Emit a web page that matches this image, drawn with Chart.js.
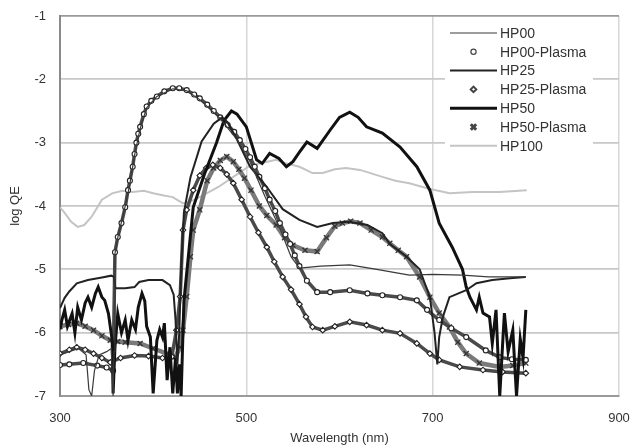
<!DOCTYPE html>
<html><head><meta charset="utf-8">
<script src="https://cdn.jsdelivr.net/npm/chart.js@4.4.0/dist/chart.umd.min.js"></script>
<style>html,body{margin:0;padding:0;background:#fff;}#wrap{width:630px;height:446px;}</style>
</head><body><div id="wrap"><canvas id="c" width="630" height="446"></canvas></div>
<script>
// ---- data ----
const seriesNames = ['HP00','HP00-Plasma','HP25','HP25-Plasma','HP50','HP50-Plasma','HP100'];
const xTicks = [300,500,700,900];
const yTicks = [-1,-2,-3,-4,-5,-6,-7];

const hp00_x = [300,310,320,328,331,334,337,342,350,355,357,358,359,362,366,370,375,380,386,393,404,421,436,450,472,490,504,520,536,548,557,580,611,640,675,700,732,760,800];
const hp00_y = [-6.35,-6.3,-6.25,-6.35,-6.9,-7.0,-6.6,-6.35,-6.3,-6.25,-7.0,-6.3,-4.75,-4.5,-4.25,-4.0,-3.65,-3.2,-2.78,-2.45,-2.27,-2.15,-2.18,-2.32,-2.62,-2.95,-3.3,-3.85,-4.35,-4.8,-4.98,-4.95,-4.93,-5.0,-5.09,-5.08,-5.09,-5.12,-5.12];

const hp00p_x = [300,310,325,340,350,357,359,362,366,370,373,375,378,380,382,384,386,390,393,398,404,412,421,428,436,444,450,458,465,472,480,487,493,499,504,509,514,520,525,531,536,542,547,552,557,565,576,590,611,630,646,665,683,694,707,720,736,757,772,785,800];
const hp00p_y = [-6.51,-6.5,-6.48,-6.52,-6.55,-6.6,-4.73,-4.49,-4.27,-4.02,-3.75,-3.6,-3.38,-3.18,-3.0,-2.86,-2.75,-2.55,-2.43,-2.34,-2.27,-2.19,-2.14,-2.14,-2.17,-2.24,-2.3,-2.4,-2.5,-2.6,-2.72,-2.83,-2.96,-3.1,-3.23,-3.38,-3.54,-3.72,-3.9,-4.08,-4.27,-4.45,-4.6,-4.78,-4.95,-5.18,-5.36,-5.36,-5.33,-5.38,-5.41,-5.44,-5.49,-5.64,-5.8,-5.93,-6.07,-6.28,-6.39,-6.42,-6.43];

const hp25_x = [300,305,310,318,330,345,355,358,359.5,370,380,385,395,410,418,422,424,426,428,430,433,440,452,465,474,480,490,504,522,539,557,576,593,610,630,646,654,672,686,697,702,705,707,711,718,736,747,764,783,800];
const hp25_y = [-5.61,-5.45,-5.35,-5.22,-5.17,-5.13,-5.1,-5.12,-5.3,-5.3,-5.28,-5.2,-5.17,-5.17,-5.25,-5.4,-5.8,-6.5,-6.0,-5.0,-4.1,-3.55,-2.98,-2.7,-2.6,-2.68,-2.95,-3.38,-3.7,-4.05,-4.22,-4.33,-4.27,-4.25,-4.3,-4.43,-4.6,-4.8,-5.0,-5.44,-6.0,-6.5,-6.07,-5.75,-5.44,-5.33,-5.22,-5.17,-5.14,-5.12];

const hp25p_x = [300,310,318,327,336,345,354,365,380,395,410,420,425,429,432,436,443,450,457,464,472,479,486,495,504,513,522,530,539,548,557,564,571,582,595,611,629,646,665,683,697,707,729,754,775,800];
const hp25p_y = [-6.33,-6.27,-6.23,-6.27,-6.33,-6.4,-6.47,-6.4,-6.36,-6.37,-6.4,-6.38,-5.96,-5.43,-4.38,-4.06,-3.75,-3.52,-3.4,-3.35,-3.4,-3.5,-3.64,-3.9,-4.17,-4.42,-4.65,-4.88,-5.12,-5.32,-5.55,-5.75,-5.91,-5.96,-5.9,-5.83,-5.88,-5.96,-6.01,-6.17,-6.33,-6.43,-6.54,-6.59,-6.62,-6.64];

const hp50_x = [300,302,305,308,313,316,319,323,327,330,334,338,341,345,348,352,356,357,359,362,366,370,373,377,381,384,388,391,393,397,400,404,407,410,412,415,418,421,424,426,428,430,433,443,455,468,476,484,490,500,511,517,525,535,543,550,557,565,576,590,600,611,620,629,646,665,683,697,707,721,732,736,740,747,750,754,761,764,768,772,775,777,781,786,790,794,797,800];
const hp50_y = [-5.95,-5.8,-5.64,-5.9,-5.7,-6.0,-5.6,-5.8,-5.53,-5.44,-5.6,-5.38,-5.28,-5.44,-5.49,-5.7,-6.12,-6.96,-6.23,-5.7,-6.0,-5.8,-6.12,-5.8,-5.95,-5.6,-5.38,-5.5,-5.9,-6.07,-6.96,-6.12,-5.95,-6.07,-5.85,-6.75,-6.23,-6.96,-6.4,-6.96,-6.5,-7.0,-5.5,-4.02,-3.5,-3.0,-2.65,-2.5,-2.55,-2.75,-3.27,-3.33,-3.17,-3.25,-3.38,-3.3,-3.15,-2.99,-3.09,-2.8,-2.6,-2.52,-2.6,-2.75,-2.85,-3.07,-3.38,-3.75,-4.27,-4.65,-5.0,-5.28,-5.44,-5.64,-5.44,-5.69,-5.75,-6.17,-5.64,-7.0,-6.2,-5.69,-6.3,-5.96,-7.0,-6.1,-6.4,-5.64];

const hp50p_x = [300,309,318,327,336,345,354,362,370,386,400,415,424,429,432,436,440,443,450,458,465,472,479,486,492,498,505,514,522,532,541,550,563,576,586,595,603,612,622,634,646,654,663,672,686,697,707,718,727,736,750,772,786,800];
const hp50p_y = [-5.9,-5.87,-5.85,-5.9,-5.96,-6.05,-6.12,-6.14,-6.15,-6.17,-6.25,-6.33,-6.38,-6.23,-5.96,-5.43,-4.8,-4.38,-4.06,-3.6,-3.4,-3.28,-3.22,-3.3,-3.42,-3.56,-3.75,-4.0,-4.15,-4.3,-4.5,-4.62,-4.7,-4.72,-4.5,-4.32,-4.27,-4.24,-4.27,-4.38,-4.49,-4.59,-4.7,-4.8,-5.12,-5.44,-5.69,-5.91,-6.15,-6.33,-6.48,-6.54,-6.52,-6.48];

const hp100_x = [300,305,312,319,326,334,345,356,367,378,390,400,410,421,432,445,470,490,505,514,532,543,557,571,582,595,607,622,646,660,675,694,718,743,772,801];
const hp100_y = [-4.02,-4.11,-4.25,-4.33,-4.3,-4.17,-3.9,-3.8,-3.76,-3.78,-3.76,-3.8,-3.83,-3.86,-3.96,-3.9,-3.7,-3.5,-3.35,-3.33,-3.27,-3.33,-3.38,-3.48,-3.48,-3.42,-3.4,-3.43,-3.54,-3.6,-3.64,-3.72,-3.8,-3.78,-3.78,-3.75];

// ---- build ----
const pts = (xs, ys) => xs.map((x, i) => ({x: x, y: ys[i]}));
const FONT = "'Liberation Sans', Arial, sans-serif";

function lineDs(label, xs, ys, color, width, dash) {
  return {label, data: pts(xs, ys), showLine: true, borderColor: color, borderWidth: width,
    borderDash: dash || [], pointRadius: 0, tension: 0, kind: 'line', order: 0};
}
function markDs(label, xs, ys, style, r, lineColor, lineW, markColor, bw, legendR) {
  return {label, data: pts(xs, ys), showLine: true, borderColor: lineColor, borderWidth: lineW,
    pointStyle: style, pointRadius: r, pointBorderWidth: bw, pointBorderColor: markColor,
    pointBackgroundColor: '#fff', tension: 0, kind: 'mark', order: 1, legendR: legendR};
}

const datasets = [
  lineDs(seriesNames[0], hp00_x, hp00_y, '#3a3a3a', 1.2),
  markDs(seriesNames[1], hp00p_x, hp00p_y, 'circle', 2.5, '#4a4a4a', 3.5, '#222', 1.1, 2.6),
  lineDs(seriesNames[2], hp25_x, hp25_y, '#222', 2),
  markDs(seriesNames[3], hp25p_x, hp25p_y, 'rectRot', 2.8, '#4a4a4a', 3.5, '#222', 1.1, 2.8),
  lineDs(seriesNames[4], hp50_x, hp50_y, '#111', 3),
  markDs(seriesNames[5], hp50p_x, hp50p_y, 'crossRot', 3.6, '#7a7a7a', 4.5, '#333', 1.3, 3.8),
  Object.assign(lineDs(seriesNames[6], hp100_x, hp100_y, '#c4c4c4', 2), {order: 2})
];

const insideLegend = {
  id: 'insideLegend',
  beforeDatasetsDraw(chart) {
    const ctx = chart.ctx, a = chart.chartArea;
    ctx.save();
    ctx.fillStyle = '#fff';
    ctx.fillRect(a.right - 174, a.top + 7, 148, 132);
    ctx.restore();
  },
  afterDatasetsDraw(chart) {
    const ctx = chart.ctx, a = chart.chartArea;
    const x0 = a.right - 169, x1 = a.right - 122, xt = a.right - 119;
    ctx.save();
    chart.data.datasets.forEach((ds, i) => {
      const y = a.top + 17 + i * 18.8;
      if (ds.kind === 'line') {
        ctx.strokeStyle = ds.borderColor; ctx.lineWidth = ds.borderWidth;
        ctx.setLineDash(ds.borderDash || []);
        ctx.beginPath(); ctx.moveTo(x0, y); ctx.lineTo(x1, y); ctx.stroke();
        ctx.setLineDash([]);
      } else {
        ctx.strokeStyle = '#444'; ctx.fillStyle = '#fff';
        Chart.helpers.drawPoint(ctx, {pointStyle: ds.pointStyle, radius: ds.legendR, borderWidth: 1.2, rotation: 0}, (x0 + x1) / 2, y);
      }
      ctx.fillStyle = '#333';
      ctx.font = "14px " + FONT;
      ctx.textBaseline = 'middle'; ctx.textAlign = 'left';
      ctx.fillText(ds.label, xt, y + 1);
    });
    ctx.restore();
  }
};

new Chart(document.getElementById('c'), {
  type: 'scatter',
  data: {datasets},
  plugins: [insideLegend],
  options: {
    responsive: false, animation: false,
    layout: {padding: {left: 0, right: 11, top: 16, bottom: 0}},
    plugins: {legend: {display: false}, tooltip: {enabled: false}},
    scales: {
      x: {
        type: 'linear', min: 300, max: 900,
        afterBuildTicks: s => { s.ticks = xTicks.map(v => ({value: v})); },
        afterFit: s => { s.height = 50; s.paddingLeft = 0; s.paddingRight = 0; },
        grid: {color: '#d6d6d6', lineWidth: 1.5, drawTicks: false},
        border: {color: '#9a9a9a', width: 2},
        ticks: {padding: 15, color: '#333', font: {size: 13, family: FONT}},
        title: {display: true, text: 'Wavelength (nm)', color: '#333', font: {size: 13, family: FONT}, padding: {top: 0, bottom: 0}}
      },
      y: {
        type: 'linear', min: -7, max: -1,
        afterBuildTicks: s => { s.ticks = yTicks.map(v => ({value: v})); },
        afterFit: s => { s.width = 60; s.paddingTop = 0; s.paddingBottom = 0; },
        grid: {color: c => (c.tick && c.tick.value === -1) ? '#9a9a9a' : '#c8c8c8', lineWidth: 1.8, drawTicks: false},
        border: {color: '#8a8a8a', width: 2},
        ticks: {padding: 14, color: '#333', font: {size: 13, family: FONT}},
        title: {display: true, text: 'log QE', color: '#333', font: {size: 13, family: FONT}, padding: {top: 8, bottom: 0}}
      }
    }
  }
});
</script>
</body></html>
